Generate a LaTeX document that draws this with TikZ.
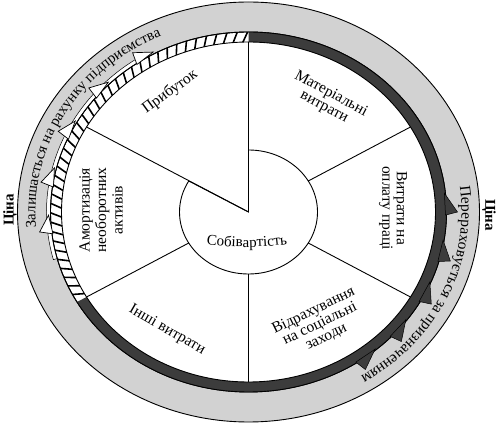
\documentclass[tikz,border=0pt]{standalone}
\usepackage{fontspec}
\setmainfont{Liberation Serif}
\usetikzlibrary{decorations.text}
\definecolor{bandgray}{HTML}{D2D2D2}
\definecolor{banddark}{HTML}{3C3C3C}
\begin{document}
\begin{tikzpicture}[x=1pt,y=1pt,
  lbl/.style={font=\fontsize{15.5}{14.5}\selectfont, align=center, inner sep=0pt},
  price/.style={font=\fontsize{15}{15}\selectfont\bfseries, inner sep=0pt},
  edge/.style={line width=0.9pt},
  stripe/.style={line width=1.6pt},
  darktri/.style={fill=banddark, draw=black, line width=0.5pt, line join=miter},
  whitetri/.style={fill=white, draw=black, line width=0.7pt, line join=miter}]
\useasboundingbox (0,0) rectangle (498,423);
\fill[white] (0,0) rectangle (498,423);
\begin{scope}[shift={(248.5,211)}]
  % outer gray band
  \filldraw[fill=bandgray, even odd rule, edge]
    (0,0) ellipse [x radius=231pt, y radius=210pt]
    (0,0) ellipse [x radius=198pt, y radius=180pt];
  % thin white strip beside the hatched ring
  \filldraw[fill=white, line width=0.5pt] (120:198pt and 180pt) arc[start angle=120, end angle=195, x radius=198pt, y radius=180pt]
    -- (195:202pt and 184pt) arc[start angle=195, end angle=120, x radius=202pt, y radius=184pt] -- cycle;
  % dark part of the ring
  \fill[banddark] (90:198pt and 180pt) arc[start angle=90, end angle=-150, x radius=198pt, y radius=180pt]
    -- (-150:187pt and 170pt) arc[start angle=-150, end angle=90, x radius=187pt, y radius=170pt] -- cycle;
  % hatched part
  \begin{scope}
    \clip (90:198pt and 180pt) arc[start angle=90, end angle=210, x radius=198pt, y radius=180pt]
      -- (210:187pt and 170pt) arc[start angle=210, end angle=90, x radius=187pt, y radius=170pt] -- cycle;
    \foreach \a in {92,95,...,212}
      \draw[stripe] (\a:185pt and 168pt) -- (\a-2:200pt and 182pt);
  \end{scope}
  \draw[edge] (0,0) ellipse [x radius=198pt, y radius=180pt];
  \draw[edge] (0,0) ellipse [x radius=187pt, y radius=170pt];
  % arrow teeth on the dark ring (pointing clockwise)
  \foreach \a in {1,-14,-28,-42,-55}
    \filldraw[darktri] (\a+5:197pt and 179pt) -- (\a-1:209pt and 190pt) -- (\a-2:197pt and 179pt) -- cycle;
  % white teeth on the hatched ring (pointing clockwise)
  \foreach \a in {122.5,138.5,154,170,185}
    \filldraw[whitetri] (\a-4:200pt and 182pt) -- (\a+1:210pt and 191pt) -- (\a+2:197pt and 179pt) -- cycle;
  % inner circle with the cut-out wedge
  \draw[edge] (90:69pt and 62pt) arc[start angle=90, end angle=-210, x radius=69pt, y radius=62pt]
    coordinate (w) -- (0,0) coordinate (c) -- (90:187pt and 170pt);
  \draw[edge] (c) -- (150:187pt and 170pt);
  \foreach \a in {30,-30,-90,210}
    \draw[edge] (\a:69pt and 62pt) -- (\a:187pt and 170pt);
  % texts along the outer band
  \path[decorate, decoration={text along path, text align=center,
      text format delimiters={|}{|},
      text={|\fontsize{15}{15}\selectfont|Залишається на рахунку підприємства}}]
    (200:213pt and 193pt) arc[start angle=200, end angle=100, x radius=213pt, y radius=193pt];
  \path[decorate, decoration={text along path, text align=center,
      text format delimiters={|}{|},
      text={|\fontsize{15.5}{15.5}\selectfont|Перераховується за призначенням}}]
    (17:213pt and 193pt) arc[start angle=17, end angle=-67, x radius=213pt, y radius=193pt];
\end{scope}
% centre label
\path[decorate, decoration={text along path, text align=center,
    text format delimiters={|}{|},
    text={|\fontsize{15}{15}\selectfont|Собівартість}}]
  (200,180) .. controls (230,174.5) and (264,174.5) .. (294,180);
% sector labels
\node[lbl, rotate=36] (prof) at (170,331) {Прибуток};
\node[lbl, rotate=-28] (mat) at (327.5,322.5) {Матеріальні\\витрати};
\node[lbl, rotate=-90] (wage) at (393,215) {Витрати на\\оплату праці};
\node[lbl, rotate=26] (soc) at (320,99) {Відрахування\\на соціальні\\заходи};
\node[lbl, rotate=-30] (oth) at (167,93) {Інші витрати};
\node[lbl, rotate=90, font=\fontsize{15.5}{16.5}\selectfont] (amort) at (101,213) {Амортизація\\необоротних\\активів};
\node[price, rotate=90] (pl) at (10,213) {Ціна};
\node[price, rotate=-90] (pr) at (489,208) {Ціна};
\end{tikzpicture}
\end{document}
